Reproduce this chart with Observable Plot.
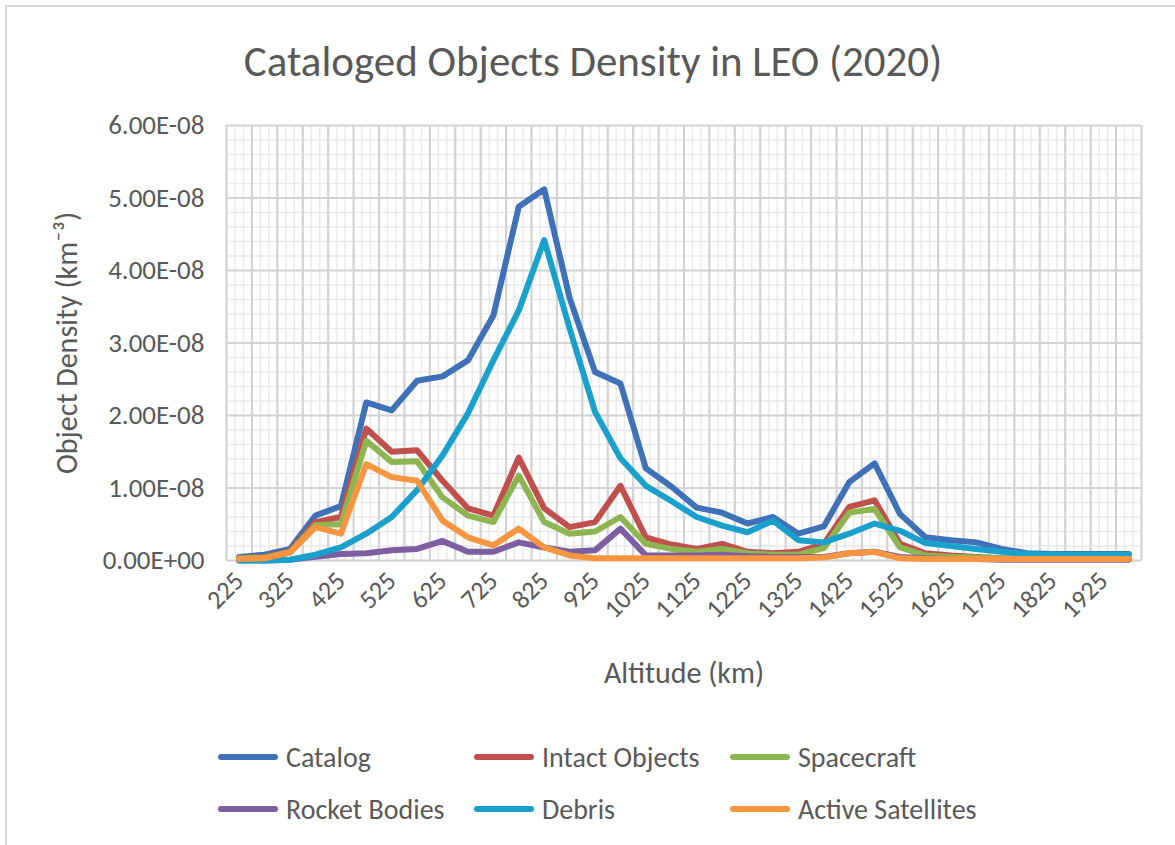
<!DOCTYPE html>
<html>
<head>
<meta charset="utf-8">
<script src="https://cdn.jsdelivr.net/npm/d3@7"></script>
<script src="https://cdn.jsdelivr.net/npm/@observablehq/plot@0.6"></script>
<style>
  html, body { margin: 0; padding: 0; background: #fff; }
  #wrap { position: relative; width: 1175px; height: 845px; overflow: hidden; font-family: Carlito, Calibri, Lato, "Open Sans", sans-serif; color: #595959; }
  #frame { position: absolute; left: 5px; top: 5px; width: 1200px; height: 900px; border-left: 2px solid #d9d9d9; border-top: 2px solid #d9d9d9; }
  #title { position: absolute; left: 0; width: 1186px; top: 36px; text-align: center; font-size: 43px; line-height: 52px; color: #595959; }
  #chart { position: absolute; left: 0; top: 100px; }
  .leg { position: absolute; display: flex; align-items: center; font-size: 28px; color: #595959; }
  .leg .sw { width: 60px; height: 6px; border-radius: 3px; margin-right: 8px; }
</style>
</head>
<body>
<div id="wrap">
  <div id="frame"></div>
  <div id="title">Cataloged Objects Density in LEO (2020)</div>
  <div id="chart"></div>
  <div id="legend"></div>
</div>
<script>
// Altitude bins (km)
const altitudes = [225, 275, 325, 375, 425, 475, 525, 575, 625, 675, 725, 775, 825, 875, 925, 975,
  1025, 1075, 1125, 1175, 1225, 1275, 1325, 1375, 1425, 1475, 1525, 1575, 1625, 1675, 1725, 1775,
  1825, 1875, 1925, 1975];
// Tick labels shown on the x axis
const xTickLabels = [225, 325, 425, 525, 625, 725, 825, 925, 1025, 1125, 1225, 1325, 1425, 1525, 1625, 1725, 1825, 1925];
// Y ticks (object density, km^-3)
const yTicks = [0, 1e-8, 2e-8, 3e-8, 4e-8, 5e-8, 6e-8];

// Series values in units of 1e-8 km^-3
const catalog = [0.05, 0.08, 0.16, 0.62, 0.75, 2.18, 2.07, 2.48, 2.54, 2.76, 3.38, 4.88, 5.12, 3.62, 2.6, 2.44,
  1.27, 1.02, 0.73, 0.66, 0.51, 0.6, 0.37, 0.47, 1.08, 1.34, 0.64, 0.32, 0.28, 0.25, 0.16, 0.1,
  0.09, 0.09, 0.09, 0.09];
const intactObjects = [0.03, 0.05, 0.13, 0.53, 0.6, 1.82, 1.5, 1.52, 1.1, 0.72, 0.62, 1.42, 0.72, 0.46, 0.53, 1.03,
  0.32, 0.22, 0.16, 0.23, 0.12, 0.1, 0.12, 0.23, 0.74, 0.83, 0.23, 0.1, 0.07, 0.05, 0.03, 0.02,
  0.02, 0.02, 0.02, 0.02];
const spacecraft = [0.03, 0.04, 0.12, 0.49, 0.5, 1.65, 1.36, 1.37, 0.87, 0.62, 0.53, 1.17, 0.53, 0.37, 0.4, 0.6,
  0.23, 0.16, 0.12, 0.16, 0.1, 0.08, 0.08, 0.17, 0.66, 0.71, 0.18, 0.07, 0.05, 0.04, 0.03, 0.02,
  0.02, 0.02, 0.02, 0.02];
const rocketBodies = [0, 0, 0.01, 0.05, 0.09, 0.1, 0.14, 0.16, 0.27, 0.12, 0.12, 0.25, 0.18, 0.12, 0.14, 0.44,
  0.07, 0.07, 0.07, 0.08, 0.06, 0.05, 0.05, 0.05, 0.1, 0.12, 0.05, 0.03, 0.02, 0.02, 0.01, 0.01,
  0.01, 0.01, 0.01, 0.01];
const debris = [0, 0, 0.01, 0.08, 0.18, 0.37, 0.6, 0.97, 1.45, 2.03, 2.76, 3.45, 4.42, 3.2, 2.05, 1.41,
  1.03, 0.82, 0.6, 0.48, 0.39, 0.55, 0.28, 0.25, 0.37, 0.51, 0.41, 0.24, 0.2, 0.16, 0.12, 0.09,
  0.08, 0.08, 0.08, 0.08];
const activeSatellites = [0.02, 0.03, 0.11, 0.46, 0.37, 1.33, 1.15, 1.1, 0.55, 0.32, 0.21, 0.44, 0.18, 0.07, 0.03, 0.03,
  0.03, 0.03, 0.03, 0.03, 0.03, 0.03, 0.03, 0.04, 0.1, 0.12, 0.03, 0.02, 0.02, 0.02, 0.02, 0.02,
  0.02, 0.02, 0.02, 0.02];
const UNIT = 1e-8;

const seriesNames = ["Catalog", "Intact Objects", "Spacecraft", "Rocket Bodies", "Debris", "Active Satellites"];
const seriesValues = [catalog, intactObjects, spacecraft, rocketBodies, debris, activeSatellites];
const seriesColors = ["#3f71b8", "#c0504d", "#8db550", "#7d5ea3", "#1aa0cc", "#f79540"];

const rows = seriesNames.flatMap((name, si) =>
  altitudes.map((alt, i) => ({series: name, altitude: alt, density: seriesValues[si][i] * UNIT})));

const fmtE = d => {
  const [m, e] = d.toExponential(2).split("e");
  const sign = e[0] === "-" ? "-" : "+";
  const digits = e.replace(/^[+-]/, "").padStart(2, "0");
  return `${m}E${sign}${digits}`;
};

const binWidth = 50;
const xMin = altitudes[0] - binWidth / 2, xMax = altitudes[altitudes.length - 1] + binWidth / 2;
const majorX = d3.range(xMin, xMax + 1, binWidth);
const minorX = d3.range(xMin, xMax, binWidth / 3);
const minorY = d3.range(0, 6e-8, 2e-9);

const FONT = "Carlito, Calibri, Lato, 'Open Sans', sans-serif";

const plot = Plot.plot({
  width: 1175,
  height: 600,
  marginLeft: 226,
  marginRight: 34,
  marginTop: 25,
  marginBottom: 140,
  style: {fontFamily: FONT, fontSize: "26px", color: "#595959", background: "transparent", overflow: "visible"},
  x: {type: "linear", domain: [xMin, xMax]},
  y: {domain: [0, 6e-8]},
  color: {domain: seriesNames, range: seriesColors},
  marks: [
    Plot.ruleX(minorX, {stroke: "#eaeaea", strokeWidth: 1.5}),
    Plot.ruleY(minorY, {stroke: "#eaeaea", strokeWidth: 1.5}),
    Plot.ruleX(majorX, {stroke: "#d3d3d3", strokeWidth: 2.2}),
    Plot.ruleY(yTicks, {stroke: "#d3d3d3", strokeWidth: 2.2}),
    Plot.line(rows, {x: "altitude", y: "density", z: "series", stroke: "series",
      strokeWidth: 6, strokeLinejoin: "round", strokeLinecap: "round"}),
    Plot.axisY({ticks: yTicks, tickFormat: fmtE, tickSize: 0, tickPadding: 22, label: null,
      fontSize: 27, fill: "#595959"}),
    Plot.axisX({ticks: xTickLabels, tickFormat: d => String(d), tickSize: 0, tickPadding: 16,
      tickRotate: -45, label: null, fontSize: 26, fill: "#595959"}),
    Plot.text(["Altitude (km)"], {frameAnchor: "bottom", textAnchor: "middle", dy: 122, fontSize: 30, fill: "#595959"}),
    Plot.text(["Object Density (km\u207B\u00B3)"], {frameAnchor: "left", textAnchor: "middle", rotate: -90, dx: -159, fontSize: 30, fill: "#595959"})
  ]
});
document.getElementById("chart").appendChild(plot);

// Legend
const legendPos = [
  {x: 218, y: 757}, {x: 474, y: 757}, {x: 730, y: 757},
  {x: 218, y: 809}, {x: 474, y: 809}, {x: 730, y: 809}
];
const legend = document.getElementById("legend");
seriesNames.forEach((name, i) => {
  const item = document.createElement("div");
  item.className = "leg";
  item.style.left = legendPos[i].x + "px";
  item.style.top = (legendPos[i].y - 18) + "px";
  item.style.height = "36px";
  const sw = document.createElement("span");
  sw.className = "sw";
  sw.style.background = seriesColors[i];
  const tx = document.createElement("span");
  tx.textContent = name;
  item.appendChild(sw);
  item.appendChild(tx);
  legend.appendChild(item);
});
</script>
</body>
</html>
